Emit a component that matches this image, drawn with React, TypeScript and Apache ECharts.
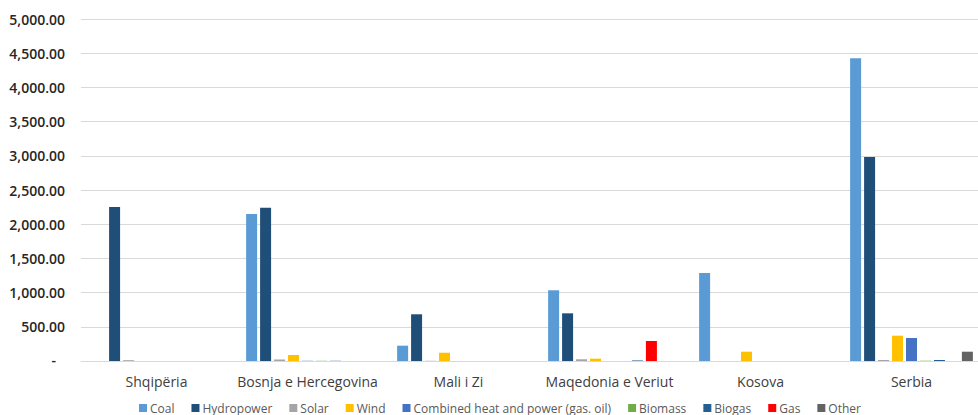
import React, { useEffect, useRef } from "react";
import * as echarts from "echarts";

const categories = ["Shqipëria", "Bosnja e Hercegovina", "Mali i Zi", "Maqedonia e Veriut", "Kosova", "Serbia"];
const seriesNames = ["Coal", "Hydropower", "Solar", "Wind", "Combined heat and power (gas. oil)", "Biomass", "Biogas", "Gas", "Other"];
const seriesColors = ["#5b9bd5", "#1f4e79", "#a5a5a5", "#ffc000", "#4472c4", "#70ad47", "#255e91", "#ff0000", "#636363"];
const coal = [0, 2150, 224, 1034, 1287, 4425];
const hydropower = [2250, 2240, 683, 697, 0, 2982];
const solar = [12, 22, 3, 25, 0, 15];
const wind = [0, 88, 121, 34, 136, 370];
const chp = [0, 3, 0, 0, 0, 336];
const biomass = [0, 3, 0, 0, 0, 4];
const biogas = [0, 3, 0, 8, 0, 15];
const gas = [0, 0, 0, 292, 0, 0];
const other = [0, 0, 0, 0, 0, 136];
const seriesValues = [coal, hydropower, solar, wind, chp, biomass, biogas, gas, other];

const yMin = 0;
const yMax = 5000;
const yInterval = 500;

export default function App() {
  const ref = useRef<HTMLDivElement>(null);
  useEffect(() => {
    if (!ref.current) return;
    const chart = echarts.init(ref.current, undefined, { renderer: "svg" });
    const font = "'Open Sans', sans-serif";
    chart.setOption({
      animation: false,
      textStyle: { fontFamily: font },
      grid: { left: 81, right: 0, top: 19, bottom: 54, containLabel: false },
      legend: {
        data: seriesNames,
        left: 134,
        top: 397,
        itemWidth: 8,
        itemHeight: 8,
        itemGap: 17,
        icon: "rect",
        textStyle: { color: "#595959", fontSize: 12, lineHeight: 12, fontFamily: font, padding: [0, 0, 0, -2] },
      },
      xAxis: {
        type: "category",
        data: categories,
        axisLine: { show: true, lineStyle: { color: "#d9d9d9", width: 1 } },
        axisTick: { show: false },
        axisLabel: { color: "#404040", fontSize: 14, margin: 13, fontFamily: font, interval: 0 },
      },
      yAxis: {
        type: "value",
        min: yMin,
        max: yMax,
        interval: yInterval,
        axisLine: { show: false },
        axisTick: { show: false },
        splitLine: { lineStyle: { color: "#d9d9d9", width: 1 } },
        axisLabel: {
          color: "#262626",
          fontSize: 14,
          fontWeight: 600,
          margin: 16,
          fontFamily: font,
          formatter: (v: number) =>
            v === 0
              ? "{z|-}"
              : v.toLocaleString("en-US", { minimumFractionDigits: 2, maximumFractionDigits: 2 }),
          rich: { z: { padding: [0, 9, 4, 0], fontSize: 14, fontWeight: 600, color: "#262626" } },
        },
      },
      series: seriesNames.map((name, i) => ({
        name,
        type: "bar",
        data: seriesValues[i],
        barWidth: 11,
        barGap: "27%",
        itemStyle: { color: seriesColors[i] },
      })),
    });
    return () => chart.dispose();
  }, []);
  return (
    <div style={{ position: "fixed", left: 0, top: 0, width: 978, height: 415, overflow: "hidden", background: "#fff" }}>
      <div ref={ref} style={{ position: "absolute", left: 0, top: 0, width: 987, height: 415 }} />
    </div>
  );
}
